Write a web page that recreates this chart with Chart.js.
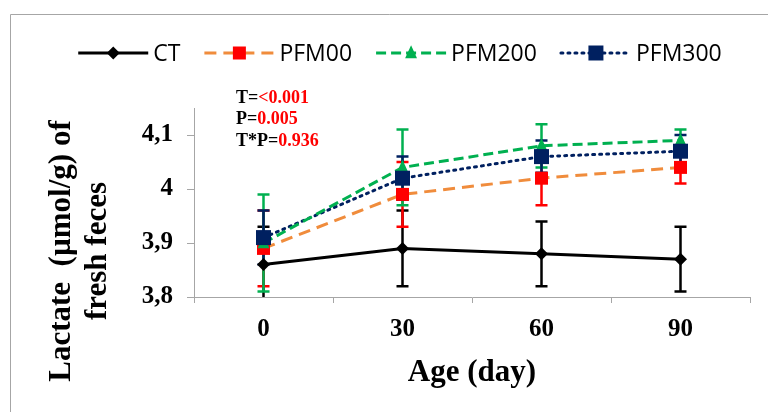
<!DOCTYPE html>
<html>
<head>
<meta charset="utf-8">
<title>Lactate</title>
<script src="https://cdn.jsdelivr.net/npm/chart.js@4"></script>
<style>
  html, body { margin: 0; padding: 0; background: #fff; }
  .wrap { position: relative; width: 768px; height: 412px; }
</style>
</head>
<body>
<div class="wrap"><canvas id="c" width="768" height="412"></canvas></div>
<script>
// data
const days = ['0', '30', '60', '90'];
const ct = [3.86, 3.89, 3.88, 3.87];
const pfm00 = [3.89, 3.99, 4.02, 4.04];
const pfm200 = [3.90, 4.04, 4.08, 4.09];
const pfm300 = [3.91, 4.02, 4.06, 4.07];
// error bars (+/-)
const ctErr = [0.07, 0.07, 0.06, 0.06];
const pfm00Err = [0.07, 0.06, 0.05, 0.03];
const pfm200Err = [0.09, 0.07, 0.04, 0.02];
const pfm300Err = [0.05, 0.04, 0.03, 0.03];
const yTicks = [3.8, 3.9, 4.0, 4.1];
const stats = [['T=', '<0.001'], ['P=', '0.005'], ['T*P=', '0.936']];

const GREY = '#A6A6A6';
const SERIF = '"Liberation Serif", "Times New Roman", serif';

const series = [
  { label: 'CT', data: ct, err: ctErr, line: '#000000', mark: '#000000', dash: [], style: 'diamond', r: 6.5 },
  { label: 'PFM00', data: pfm00, err: pfm00Err, line: '#F08C3C', mark: '#FF0000', dash: [12, 7], style: 'square', r: 6.5 },
  { label: 'PFM200', data: pfm200, err: pfm200Err, line: '#00B050', mark: '#00B050', dash: [10, 5], style: 'triangle', r: 7 },
  { label: 'PFM300', data: pfm300, err: pfm300Err, line: '#002060', mark: '#002060', dash: [2, 5], style: 'square', r: 7.5 }
];

function marker(ctx, style, x, y, r, color) {
  ctx.save();
  ctx.fillStyle = color;
  ctx.beginPath();
  if (style === 'diamond') {
    ctx.moveTo(x, y - r); ctx.lineTo(x + r, y); ctx.lineTo(x, y + r); ctx.lineTo(x - r, y);
  } else if (style === 'triangle') {
    ctx.moveTo(x, y - r * 1.1); ctx.lineTo(x + r * 0.85, y + r * 0.75); ctx.lineTo(x - r * 0.85, y + r * 0.75);
  } else {
    ctx.rect(x - r, y - r, 2 * r, 2 * r);
  }
  ctx.closePath();
  ctx.fill();
  ctx.restore();
}

// error bars, drawn under the lines
const errorBars = {
  id: 'errorBars',
  beforeDatasetsDraw(chart) {
    const ctx = chart.ctx, y = chart.scales.y, a = chart.chartArea;
    ctx.save();
    ctx.beginPath();
    ctx.rect(a.left, a.top - 20, a.right - a.left, a.bottom - a.top + 20);
    ctx.clip();
    series.forEach((s, i) => {
      const meta = chart.getDatasetMeta(i);
      ctx.strokeStyle = s.mark;
      ctx.lineWidth = 2.5;
      meta.data.forEach((pt, j) => {
        const top = y.getPixelForValue(s.data[j] + s.err[j]);
        const bot = y.getPixelForValue(s.data[j] - s.err[j]);
        ctx.beginPath();
        ctx.moveTo(pt.x, top); ctx.lineTo(pt.x, bot);
        ctx.moveTo(pt.x - 6, top); ctx.lineTo(pt.x + 6, top);
        ctx.moveTo(pt.x - 6, bot); ctx.lineTo(pt.x + 6, bot);
        ctx.stroke();
      });
    });
    ctx.restore();
  },
  afterDatasetsDraw(chart) {
    const ctx = chart.ctx;
    series.forEach((s, i) => {
      chart.getDatasetMeta(i).data.forEach(pt => marker(ctx, s.style, pt.x, pt.y, s.r, s.mark));
    });
  }
};

// frame, legend, titles and stats text
const decor = {
  id: 'decor',
  afterDraw(chart) {
    const ctx = chart.ctx, a = chart.chartArea;
    ctx.save();
    // outer frame
    ctx.strokeStyle = GREY;
    ctx.lineWidth = 1;
    ctx.beginPath();
    ctx.moveTo(10.5, 420); ctx.lineTo(10.5, 14.5); ctx.lineTo(780, 14.5);
    ctx.stroke();

    // legend
    ctx.font = '23px "Open Sans", sans-serif';
    ctx.textBaseline = 'middle';
    const lineW = 70, gapT = 5, gapI = 24;
    const widths = series.map(s => lineW + gapT + ctx.measureText(s.label).width);
    const total = widths.reduce((p, w) => p + w, 0) + gapI * (series.length - 1);
    let x = 400 - total / 2;
    const ly = 53;
    series.forEach((s, i) => {
      ctx.strokeStyle = s.line;
      ctx.lineWidth = 3;
      ctx.lineCap = s.dash.length && s.dash[0] < 4 ? 'round' : 'butt';
      ctx.setLineDash(s.dash);
      ctx.beginPath();
      ctx.moveTo(x, ly); ctx.lineTo(x + lineW, ly);
      ctx.stroke();
      ctx.setLineDash([]);
      marker(ctx, s.style, x + lineW / 2, ly, s.r, s.mark);
      ctx.fillStyle = '#000';
      ctx.textAlign = 'left';
      ctx.fillText(s.label, x + lineW + gapT, ly + 1);
      x += widths[i] + gapI;
    });

    // stats text
    ctx.font = 'bold 18px ' + SERIF;
    stats.forEach((st, i) => {
      const sx = a.left + 42, sy = 98 + i * 21.5;
      ctx.fillStyle = '#000';
      ctx.fillText(st[0], sx, sy);
      ctx.fillStyle = '#FF0000';
      ctx.fillText(st[1], sx + ctx.measureText(st[0]).width, sy);
    });

    // y axis title
    ctx.translate(80, 251);
    ctx.rotate(-Math.PI / 2);
    ctx.font = 'bold 31px ' + SERIF;
    ctx.fillStyle = '#000';
    ctx.textAlign = 'center';
    ctx.fillText('Lactate  (\u00b5mol/g) of', 0, -18);
    ctx.fillText('fresh feces', 0, 18);
    ctx.restore();
  }
};

new Chart(document.getElementById('c'), {
  type: 'line',
  data: {
    labels: days,
    datasets: series.map((s, i) => ({
      label: s.label,
      data: s.data,
      borderColor: s.line,
      borderWidth: 3,
      borderDash: s.dash,
      borderCapStyle: s.dash.length && s.dash[0] < 4 ? 'round' : 'butt',
      pointRadius: 0,
      fill: false,
      tension: 0,
      order: i
    }))
  },
  options: {
    responsive: false,
    animation: false,
    layout: { padding: { left: 0, right: 18, top: 108, bottom: 0 } },
    plugins: { legend: { display: false }, tooltip: { enabled: false } },
    scales: {
      x: {
        offset: true,
        afterFit: s => { s.height = 115; },
        grid: { offset: true, drawOnChartArea: false, color: GREY, tickLength: 6 },
        border: { color: GREY, width: 1 },
        ticks: { color: '#000', padding: 12, font: { family: SERIF, size: 25, weight: 'bold' } },
        title: {
          display: true, text: 'Age (day)', color: '#000',
          font: { family: SERIF, size: 31, weight: 'bold' },
          padding: { top: 0, bottom: 20 }
        }
      },
      y: {
        min: 3.8,
        max: 4.15,
        afterFit: s => { s.width = 194; },
        afterBuildTicks: s => { s.ticks = yTicks.map(v => ({ value: v })); },
        grid: { drawOnChartArea: false, color: GREY, tickLength: 7 },
        border: { color: GREY, width: 1 },
        ticks: {
          color: '#000', padding: 14,
          font: { family: SERIF, size: 25, weight: 'bold' },
          callback: v => String(Math.round(v * 10) / 10).replace('.', ',')
        }
      }
    }
  },
  plugins: [errorBars, decor]
});
</script>
</body>
</html>
